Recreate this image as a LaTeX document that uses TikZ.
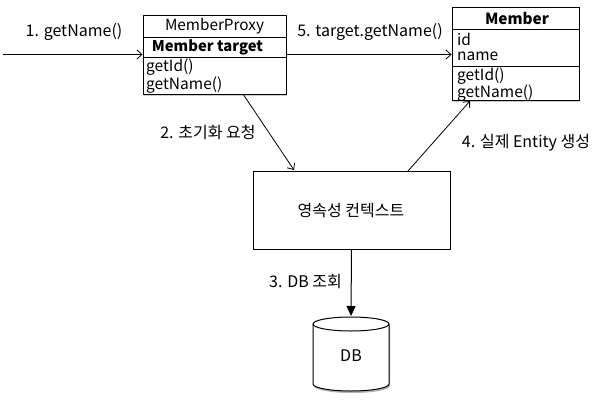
\documentclass[tikz,border=0pt]{standalone}
\usepackage{fontspec}
\setmainfont{Noto Sans CJK KR}
\usetikzlibrary{arrows.meta,shadows}
\begin{document}
\begin{tikzpicture}[x=1pt,y=-1pt,
  box/.style={draw,line width=0.9pt,inner sep=0pt},
  shbox/.style={box,fill=white,drop shadow={shadow xshift=1.2pt,shadow yshift=-1.8pt,opacity=0.4}},
  lbl/.style={font=\fontsize{16}{18}\selectfont,inner sep=0pt},
  item/.style={font=\fontsize{15.5}{17}\selectfont,inner sep=0pt,anchor=west},
  openarrow/.style={line width=0.8pt,-{Straight Barb[length=5pt,width=9pt,line width=0.8pt]}},
  fillarrow/.style={line width=1pt,-{Triangle[length=10pt,width=9pt]}}
]
\useasboundingbox (0,0) rectangle (595,405);
% MemberProxy box
\node[shbox,minimum width=143pt,minimum height=79pt] (proxy) at (214.5,54.5) {};
\draw[line width=0.9pt] (143,37) -- (286,37);
\draw[line width=0.9pt] (143,57) -- (286,57);
\node[lbl,font=\fontsize{15.3}{17}\selectfont] (ptitle) at (214.5,26) {MemberProxy};
\node[lbl,font=\bfseries\fontsize{14.8}{17}\selectfont] (ptarget) at (207.5,47) {Member target};
\node[item] (pgetid) at (146,67.5) {getId()};
\node[item] (pgetname) at (146,85) {getName()};
% Member box
\node[shbox,minimum width=127pt,minimum height=93pt] (member) at (515.5,53.5) {};
\draw[line width=0.9pt] (452,29) -- (579,29);
\draw[line width=0.9pt] (452,66) -- (579,66);
\node[lbl,font=\bfseries\fontsize{15.3}{17}\selectfont] (mtitle) at (517,18) {Member};
\node[item] (mid) at (457,39) {id};
\node[item] (mname) at (457,56.5) {name};
\node[item] (mgetid) at (457,76) {getId()};
\node[item] (mgetname) at (457,93) {getName()};
% persistence context
\node[box,minimum width=197pt,minimum height=78pt] (ctx) at (351.5,210) {};
\node[lbl] (ctxt) at (351,211) {영속성 컨텍스트};
% DB cylinder
\fill[black,opacity=0.3] (314,326) -- (314,386) arc[start angle=180,end angle=360,x radius=38pt,y radius=7pt] -- (390,326) -- cycle;
\draw[line width=1pt,fill=white] (313,324) -- (313,384)
  arc[start angle=180,end angle=360,x radius=38pt,y radius=7pt] -- (389,324)
  arc[start angle=0,end angle=180,x radius=38pt,y radius=7pt] -- cycle;
\draw[line width=1pt] (313,324) arc[start angle=180,end angle=360,x radius=38pt,y radius=7pt];
\node[lbl,font=\fontsize{16}{18}\selectfont] (db) at (351,356) {DB};
\coordinate (dbtop) at (351,316);
% connectors
\coordinate (start) at (3,54.5);
\coordinate (a2s) at (243,94);
\coordinate (a2e) at (294,170);
\coordinate (a4s) at (408,171);
\coordinate (a4e) at (470,101);
\draw[openarrow] (start) -- (proxy.west);
\draw[openarrow] (proxy.east) -- (member.west |- proxy.east);
\draw[openarrow] (a2s) -- (a2e);
\draw[openarrow] (a4s) -- (a4e);
\draw[fillarrow] (ctx.south) -- (dbtop);
% labels
\node[lbl] (l1) at (74,32) {1. getName()};
\node[lbl] (l5) at (370,32) {5. target.getName()};
\node[lbl] (l2) at (208,132) {2. 초기화 요청};
\node[lbl] (l4) at (526,143) {4. 실제 Entity 생성};
\node[lbl] (l3) at (305.5,282) {3. DB 조회};
\end{tikzpicture}
\end{document}
